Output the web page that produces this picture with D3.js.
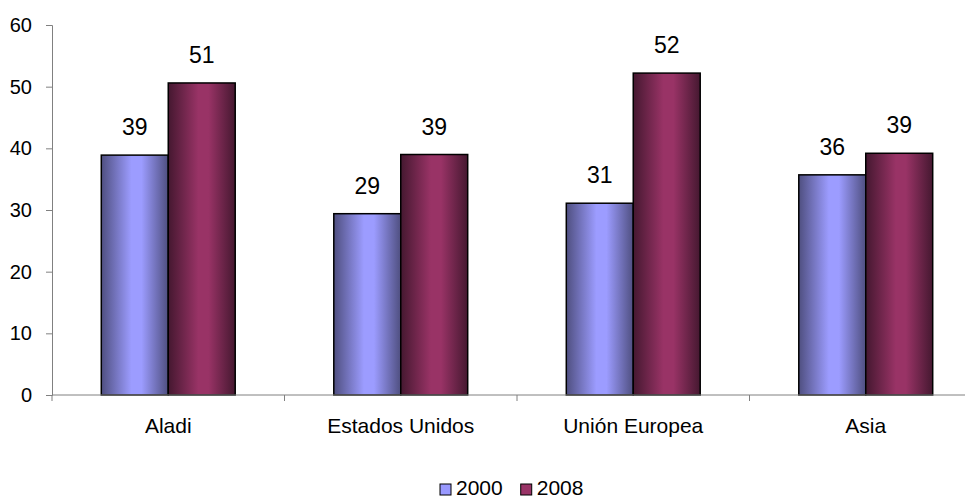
<!DOCTYPE html>
<html>
<head>
<meta charset="utf-8">
<script src="https://cdn.jsdelivr.net/npm/d3@7"></script>
<style>
  body { margin: 0; background: #fff; }
  svg { display: block; font-family: Arial, 'Liberation Sans', sans-serif; }
</style>
</head>
<body>
<div id="chart"></div>
<script>
// Participación por destino, 2000 vs 2008
const categories = ['Aladi', 'Estados Unidos', 'Unión Europea', 'Asia'];
const years = ['2000', '2008'];
const values2000 = [38.9, 29.4, 31.1, 35.7];
const values2008 = [50.6, 39.0, 52.2, 39.2];
const yTicks = [0, 10, 20, 30, 40, 50, 60];

const width = 965, height = 498;
const plotLeft = 52, plotRight = 982, plotTop = 25, plotBottom = 395;

const svg = d3.select('#chart').append('svg')
  .attr('width', width)
  .attr('height', height);

// gradients: dark edges, light centre (cylinder look)
const defs = svg.append('defs');
const gradSpecs = [
  { id: 'g2000', edge: '#4f4f80', mid: '#9c9cff' },
  { id: 'g2008', edge: '#451830', mid: '#993366' }
];
gradSpecs.forEach(g => {
  const lg = defs.append('linearGradient').attr('id', g.id)
    .attr('x1', '0%').attr('x2', '100%').attr('y1', '0%').attr('y2', '0%');
  lg.append('stop').attr('offset', '0%').attr('stop-color', g.edge);
  lg.append('stop').attr('offset', '45%').attr('stop-color', g.mid);
  lg.append('stop').attr('offset', '60%').attr('stop-color', g.mid);
  lg.append('stop').attr('offset', '100%').attr('stop-color', g.edge);
});

const x0 = d3.scaleBand()
  .domain(categories)
  .range([plotLeft, plotRight])
  .paddingInner(0.424)
  .paddingOuter(0.212);

const x1 = d3.scaleBand()
  .domain(years)
  .range([0, x0.bandwidth()]);

const y = d3.scaleLinear()
  .domain([0, 60])
  .range([plotBottom, plotTop]);

// y axis
const yAxis = svg.append('g')
  .attr('transform', `translate(${plotLeft},0)`)
  .call(d3.axisLeft(y).tickValues(yTicks).tickSize(6).tickPadding(14));
yAxis.select('.domain').attr('stroke', '#808080');
yAxis.selectAll('.tick line').attr('stroke', '#808080');
yAxis.selectAll('.tick text')
  .attr('font-size', '20px')
  .attr('font-family', 'Arial, Liberation Sans, sans-serif')
  .attr('fill', '#000');

// bars
const series = [values2000, values2008];
const fills = ['url(#g2000)', 'url(#g2008)'];

categories.forEach((cat, ci) => {
  years.forEach((yr, si) => {
    const v = series[si][ci];
    const bx = x0(cat) + x1(yr);
    svg.append('rect')
      .attr('x', bx)
      .attr('y', y(v))
      .attr('width', x1.bandwidth())
      .attr('height', y(0) - y(v))
      .attr('fill', fills[si])
      .attr('stroke', '#000')
      .attr('stroke-width', 1.5);

    svg.append('text')
      .attr('x', bx + x1.bandwidth() / 2)
      .attr('y', y(v) - 20)
      .attr('text-anchor', 'middle')
      .attr('font-size', '23px')
      .attr('fill', '#000')
      .text(Math.round(v));
  });
});

// x axis
const xAxisG = svg.append('g');
xAxisG.append('line')
  .attr('x1', plotLeft).attr('x2', plotRight)
  .attr('y1', plotBottom).attr('y2', plotBottom)
  .attr('stroke', '#808080');
categories.forEach((cat, ci) => {
  const bx = x0(cat) - x0.step() * x0.paddingInner() / 2;
  xAxisG.append('line')
    .attr('x1', bx).attr('x2', bx)
    .attr('y1', plotBottom).attr('y2', plotBottom + 6)
    .attr('stroke', '#808080');
  xAxisG.append('text')
    .attr('x', x0(cat) + x0.bandwidth() / 2)
    .attr('y', 433)
    .attr('text-anchor', 'middle')
    .attr('font-size', '21px')
    .attr('fill', '#000')
    .text(cat);
});

// legend
const legend = svg.append('g');
const legendItems = [
  { label: years[0], fill: '#9999ff' },
  { label: years[1], fill: '#993366' }
];
let lx = 440;
legendItems.forEach(item => {
  legend.append('rect')
    .attr('x', lx).attr('y', 484)
    .attr('width', 11).attr('height', 11)
    .attr('fill', item.fill)
    .attr('stroke', '#000')
    .attr('stroke-width', 1);
  const t = legend.append('text')
    .attr('x', lx + 16).attr('y', 495)
    .attr('font-size', '21px')
    .attr('fill', '#000')
    .text(item.label);
  lx += 16 + t.node().getComputedTextLength() + 18;
});
</script>
</body>
</html>
